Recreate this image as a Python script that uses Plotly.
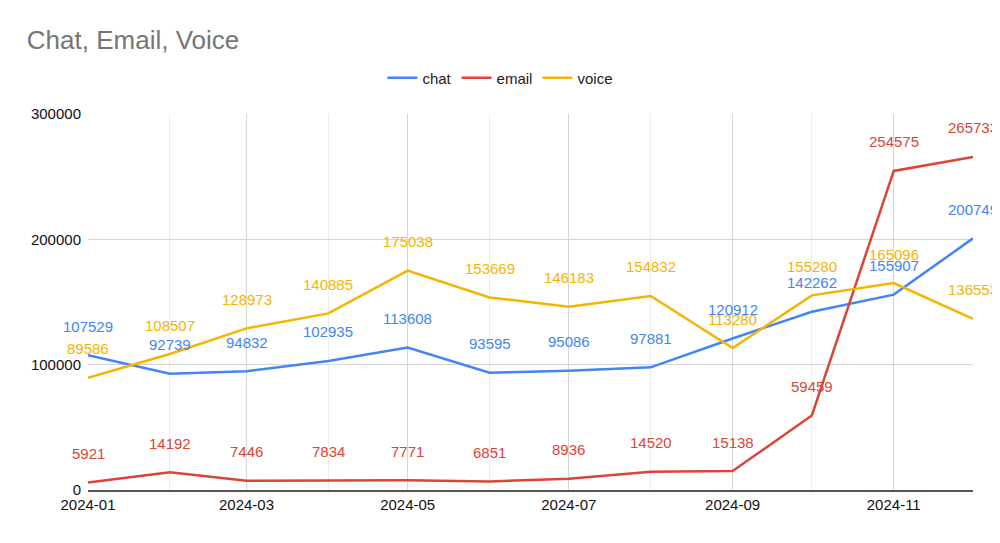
import plotly.graph_objects as go

months = ["2024-01-01", "2024-02-01", "2024-03-01", "2024-04-01", "2024-05-01", "2024-06-01",
          "2024-07-01", "2024-08-01", "2024-09-01", "2024-10-01", "2024-11-01", "2024-12-01"]
chat = [107529, 92739, 94832, 102935, 113608, 93595, 95086, 97881, 120912, 142262, 155907, 200749]
email = [5921, 14192, 7446, 7834, 7771, 6851, 8936, 14520, 15138, 59459, 254575, 265733]
voice = [89586, 108507, 128973, 140885, 175038, 153669, 146183, 154832, 113280, 155280, 165096, 136553]

series = [("chat", chat, "#4285F4"), ("email", email, "#DB4437"), ("voice", voice, "#F4B400")]

FONT = "Liberation Sans, Arial"
fig = go.Figure()
annotations = []
for name, vals, col in series:
    fig.add_trace(go.Scatter(x=months, y=vals, mode="lines", name=name,
                             line=dict(color=col, width=2.5)))
    for x, v in zip(months, vals):
        annotations.append(dict(x=x, y=v, text=str(v), showarrow=False, yshift=29,
                                font=dict(color=col, size=15, family=FONT),
                                xref="x", yref="y"))

fig.update_layout(
    width=992, height=535,
    margin=dict(l=80, r=27, t=106, b=53),
    paper_bgcolor="white", plot_bgcolor="white",
    title=dict(text="Chat, Email, Voice", x=0.019, xanchor="left", y=0.94, yanchor="middle",
               font=dict(size=26, color="#757575", family=FONT)),
    legend=dict(orientation="h", x=0.466, xanchor="center", y=1.096, yanchor="middle",
                font=dict(size=15, color="#222", family=FONT)),
    annotations=annotations,
    font=dict(family=FONT),
)
fig.update_xaxes(range=["2024-01-01", "2024-12-01"], dtick="M2", tick0="2024-01-01",
                 tickformat="%Y-%m", showgrid=True, gridcolor="#d6d6d6", gridwidth=1,
                 minor=dict(dtick="M1", showgrid=True, gridcolor="#ececec"),
                 showline=True, linecolor="#555", linewidth=2,
                 tickfont=dict(size=15, color="#111"), ticks="", zeroline=False)
fig.update_yaxes(range=[0, 300000], dtick=100000, tickformat="d", showgrid=True,
                 gridcolor="#d6d6d6", zeroline=False, tickfont=dict(size=15, color="#111"),
                 ticks="", ticklabelstandoff=6)

fig.write_html("out.html")
